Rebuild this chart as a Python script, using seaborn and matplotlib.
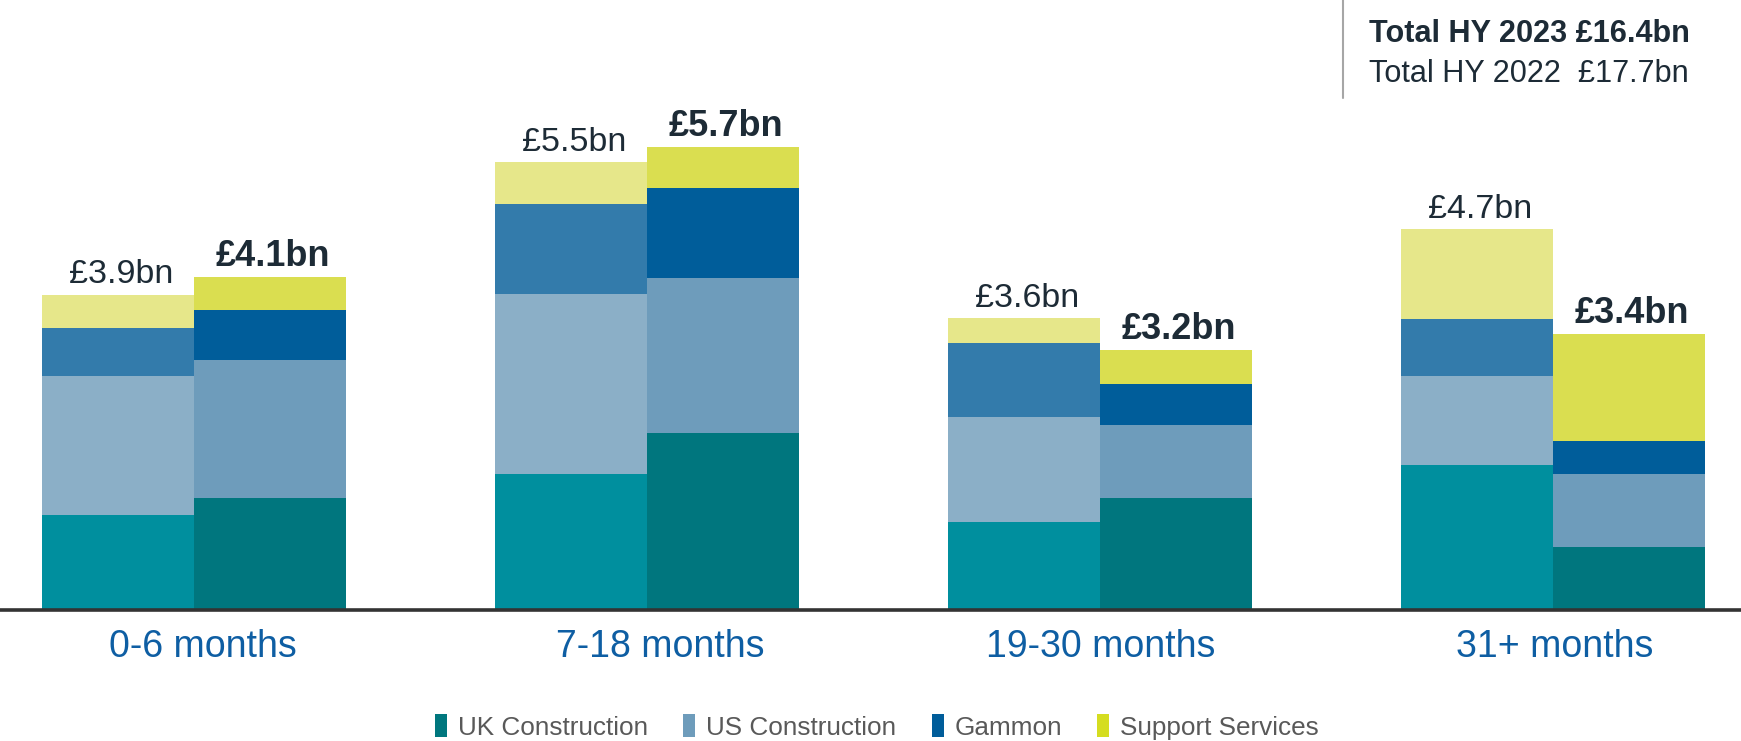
import matplotlib
matplotlib.use("Agg")
import matplotlib.pyplot as plt
import matplotlib.transforms as mtransforms
from matplotlib.patches import Patch
from matplotlib.lines import Line2D
import seaborn as sns
import pandas as pd
import numpy as np

# ---- data (GBP bn) ----
periods = ["0-6 months", "7-18 months", "19-30 months", "31+ months"]
years = ["HY 2022", "HY 2023"]
segments = ["UK Construction", "US Construction", "Gammon", "Support Services"]

uk_2022 = [1.17, 1.68, 1.09, 1.79]
us_2022 = [1.71, 2.22, 1.29, 1.10]
gammon_2022 = [0.60, 1.11, 0.91, 0.70]
support_2022 = [0.41, 0.51, 0.31, 1.11]

uk_2023 = [1.38, 2.18, 1.38, 0.78]
us_2023 = [1.70, 1.91, 0.90, 0.90]
gammon_2023 = [0.62, 1.11, 0.51, 0.41]
support_2023 = [0.41, 0.51, 0.41, 1.31]

labels_2022 = ["£3.9bn", "£5.5bn", "£3.6bn", "£4.7bn"]
labels_2023 = ["£4.1bn", "£5.7bn", "£3.2bn", "£3.4bn"]

total_2023_text = "Total HY 2023 £16.4bn"
total_2022_text = "Total HY 2022  £17.7bn"

colors_2022 = ["#008F9E", "#8BAFC7", "#337BAB", "#E6E78A"]
colors_2023 = ["#00767E", "#6E9CBB", "#005D9A", "#DADE50"]
legend_colors = ["#00777E", "#6E9CBB", "#005D9A", "#D5DD20"]

# ---- build long table ----
rows = []
vals = {
    "HY 2022": [uk_2022, us_2022, gammon_2022, support_2022],
    "HY 2023": [uk_2023, us_2023, gammon_2023, support_2023],
}
for yr in years:
    arr = np.array(vals[yr])
    cum = np.cumsum(arr, axis=0)
    for i, p in enumerate(periods):
        row = {"period": p, "year": yr}
        for k, s in enumerate(segments):
            row["cum_" + s] = cum[k, i]
        rows.append(row)
df = pd.DataFrame(rows)

sns.set_style("white")
plt.rcParams["font.family"] = ["Liberation Sans", "DejaVu Sans"]

W, H = 1741, 741
fig = plt.figure(figsize=(W / 100, H / 100), dpi=100)
base_px = 610
px_per_bn = 81.1
ax = fig.add_axes([0, (H - base_px) / H, 1, base_px / H])

# draw stacked bars: top layer (cumulative total) first
for k in reversed(range(len(segments))):
    s = segments[k]
    sns.barplot(
        data=df, x="period", y="cum_" + s, hue="year",
        order=periods, hue_order=years,
        palette={"HY 2022": colors_2022[k], "HY 2023": colors_2023[k]},
        width=0.671, saturation=1, errorbar=None, legend=False,
        linewidth=0, edgecolor="none", ax=ax,
    )

ax.set_xlim(-194 / 453, 3 + 188 / 453)
ax.set_ylim(0, base_px / px_per_bn)
for sp in ax.spines.values():
    sp.set_visible(False)
ax.set_yticks([])
ax.set_ylabel("")
ax.set_xlabel("")
ax.tick_params(axis="x", length=0, pad=14, labelsize=27, labelcolor="#0E5EA3")
ax.set_xticks(range(len(periods)))
ax.set_xticklabels(periods)
# small horizontal nudges of the category labels (pixels)
label_nudge_px = [9, 13, 1, 2]
for lab, dx in zip(ax.get_xticklabels(), label_nudge_px):
    lab.set_transform(lab.get_transform() +
                      mtransforms.ScaledTranslation(dx / 100, 0, fig.dpi_scale_trans))

ax.axhline(0, color="#333333", lw=2.6, zorder=10, clip_on=False)

# total labels
half = 0.671 / 4
tot22 = df[df.year == "HY 2022"]["cum_Support Services"].to_numpy()
tot23 = df[df.year == "HY 2023"]["cum_Support Services"].to_numpy()
for i in range(len(periods)):
    ax.annotate(labels_2022[i], (i - half, tot22[i]), xytext=(2, 8),
                textcoords="offset points", ha="center", va="baseline",
                fontsize=24.5, color="#1D2B36")
    ax.annotate(labels_2023[i], (i + half, tot23[i]), xytext=(2, 8),
                textcoords="offset points", ha="center", va="baseline",
                fontsize=26, fontweight="bold", color="#1D2B36")

# top-right totals
fig.text(1369 / W, 1 - 42 / H, total_2023_text, fontsize=22.1,
         fontweight="bold", color="#1D2B36", ha="left", va="baseline")
fig.text(1369 / W, 1 - 82 / H, total_2022_text, fontsize=22.1,
         color="#1D2B36", ha="left", va="baseline")
fig.add_artist(Line2D([1343 / W, 1343 / W], [1, 1 - 98 / H],
                      transform=fig.transFigure, color="#A6A6A6", lw=1.5))

# legend
handles = [Patch(facecolor=c, edgecolor="none") for c in legend_colors]
leg = fig.legend(handles, segments, loc="center", bbox_to_anchor=(877 / W, 1 - 727 / H),
                 ncol=4, frameon=False, fontsize=18.8, handlelength=0.46,
                 handleheight=0.95, handletextpad=0.42, columnspacing=1.35,
                 borderpad=0, borderaxespad=0)
for t in leg.get_texts():
    t.set_color("#595959")

fig.savefig("out.png", dpi=100)
